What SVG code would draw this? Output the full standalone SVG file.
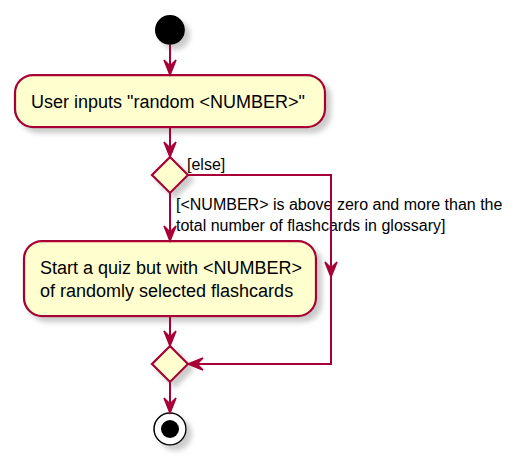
<svg xmlns="http://www.w3.org/2000/svg" width="516" height="460" viewBox="0 0 516 460">
<style>
.box{fill:#FEFECE;stroke:#A80036;stroke-width:2.25}
.ln{fill:none;stroke:#A80036;stroke-width:2}
.ah{fill:#A80036;stroke:#A80036;stroke-width:1.5}
.t{font-family:"Liberation Sans",Arial,sans-serif;font-size:18px;fill:#000}
.g{font-family:"Liberation Sans",Arial,sans-serif;font-size:16px;fill:#000}
</style>
<defs>
<filter id="sh" x="-20%" y="-20%" width="150%" height="160%">
<feGaussianBlur in="SourceAlpha" stdDeviation="2.5"/>
<feOffset dx="5" dy="5" result="b"/>
<feColorMatrix in="b" type="matrix" values="0 0 0 0 0.4  0 0 0 0 0.4  0 0 0 0 0.4  0 0 0 0.6 0" result="c"/>
<feMerge><feMergeNode in="c"/><feMergeNode in="SourceGraphic"/></feMerge>
</filter>
</defs>
<g id="start"><circle cx="170" cy="30" r="15" fill="#000" filter="url(#sh)"/></g>
<g id="a1">
<rect class="box" x="15" y="75" width="310" height="52" rx="18" filter="url(#sh)"/>
<text class="t" x="31" y="108">User inputs "random &lt;NUMBER&gt;"</text>
</g>
<g id="d1"><polygon class="box" points="170,157 188,175 170,193 152,175" filter="url(#sh)"/></g>
<g id="a2">
<rect class="box" x="24" y="241" width="292" height="75" rx="18" filter="url(#sh)"/>
<text class="t" x="40" y="274">Start a quiz but with &lt;NUMBER&gt;</text>
<text class="t" x="40" y="297">of randomly selected flashcards</text>
</g>
<g id="d2"><polygon class="box" points="170,346 188,364 170,382 152,364" filter="url(#sh)"/></g>
<g id="end">
<circle cx="170" cy="429" r="16" fill="#fff" stroke="#000" stroke-width="1.5" filter="url(#sh)"/>
<circle cx="170" cy="429" r="9" fill="#000"/>
</g>
<g id="connectors">
<line class="ln" x1="170" y1="45" x2="170" y2="74"/>
<polygon class="ah" points="164,60 170,75 176,60 170,66"/>
<line class="ln" x1="170" y1="127" x2="170" y2="156"/>
<polygon class="ah" points="164,142 170,157 176,142 170,148"/>
<line class="ln" x1="170" y1="193" x2="170" y2="240"/>
<polygon class="ah" points="164,226 170,241 176,226 170,232"/>
<text class="g" x="176" y="210">[&lt;NUMBER&gt; is above zero and more than the</text>
<text class="g" x="176" y="231">total number of flashcards in glossary]</text>
<polyline class="ln" points="188,175 331,175 331,364 189,364"/>
<polygon class="ah" points="325,262 331,277 337,262 331,268"/>
<polygon class="ah" points="203,358 188,364 203,370 197,364"/>
<text class="g" x="187" y="170">[else]</text>
<line class="ln" x1="170" y1="316" x2="170" y2="345"/>
<polygon class="ah" points="164,331 170,346 176,331 170,337"/>
<line class="ln" x1="170" y1="382" x2="170" y2="412"/>
<polygon class="ah" points="164,398 170,413 176,398 170,404"/>
</g>
</svg>
